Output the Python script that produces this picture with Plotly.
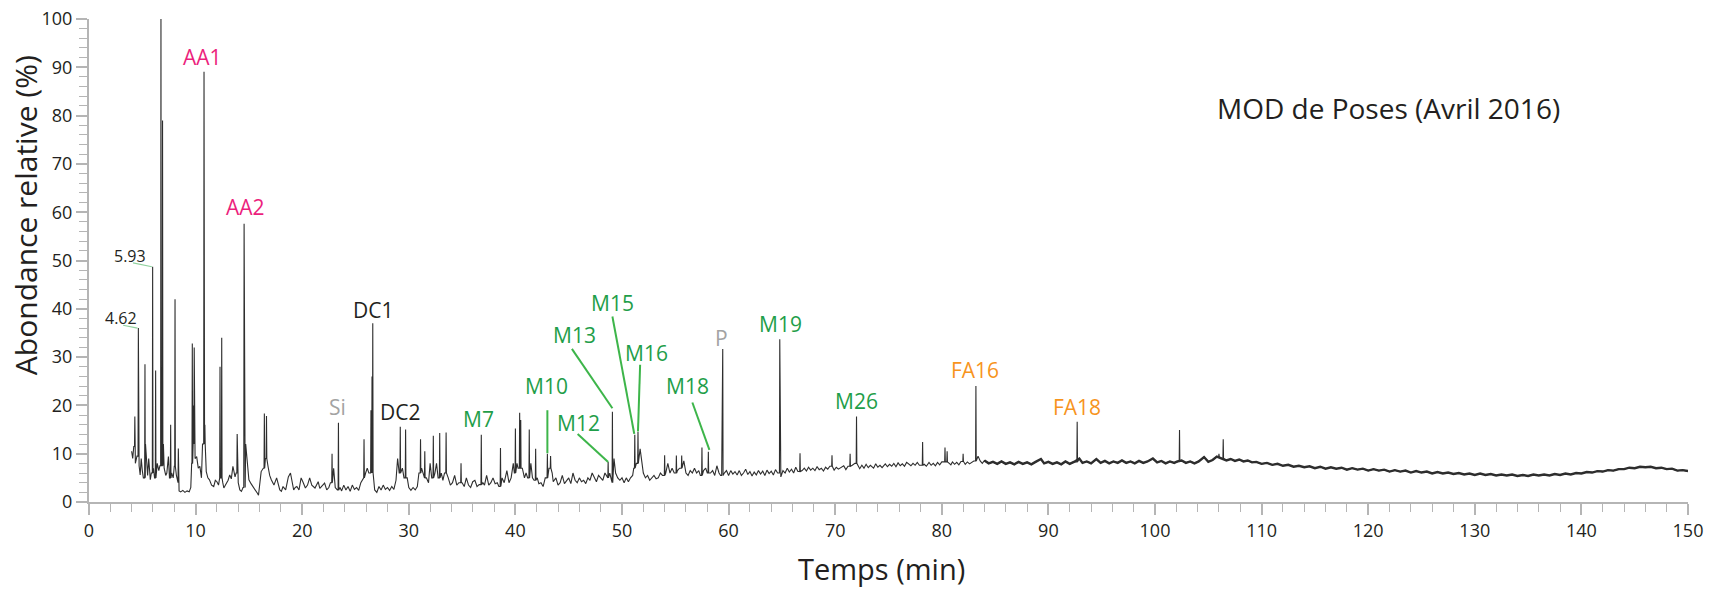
import numpy as np
import plotly.graph_objects as go

# ---------------- data ----------------
# baseline / noise readings (time in min, relative abundance %)
seg_early = [
    (4.00, 10.5), (4.10, 9.0), (4.20, 11.5), (4.35, 8.0), (4.50, 9.5), (4.70, 7.5),
    (4.80, 5.6), (4.90, 9.0), (5.00, 6.5), (5.10, 5.0), (5.30, 12.0), (5.40, 7.4),
    (5.50, 5.5), (5.60, 9.0), (5.75, 4.6), (5.85, 6.0), (6.05, 7.0), (6.15, 5.0),
    (6.40, 8.0), (6.55, 6.5), (6.65, 7.5), (6.98, 12.0), (7.05, 7.0), (7.20, 5.5),
    (7.30, 6.0), (7.45, 9.4), (7.55, 5.0), (7.75, 6.0), (7.90, 5.0), (8.00, 7.4),
    (8.20, 5.5), (8.30, 4.0), (8.45, 2.3), (8.60, 2.1), (8.80, 2.4), (9.00, 2.0),
    (9.20, 2.3), (9.40, 2.1), (9.55, 3.0), (9.63, 8.0), (9.75, 12.0), (9.95, 9.0),
    (10.10, 9.4), (10.25, 7.0), (10.40, 7.4), (10.55, 5.0), (10.65, 12.0), (10.92, 10.0),
    (11.00, 6.3), (11.15, 5.0), (11.30, 4.6), (11.50, 3.5), (11.70, 3.2), (11.85, 4.5),
    (12.00, 4.2), (12.15, 3.5), (12.25, 5.0), (12.55, 4.0), (12.65, 2.9), (12.80, 3.5),
    (12.90, 3.9), (13.05, 4.5), (13.20, 5.6), (13.35, 4.8), (13.50, 7.4), (13.70, 5.2),
    (13.80, 6.0), (14.00, 4.0), (14.15, 2.5), (14.30, 2.2), (14.45, 3.0), (14.70, 12.0),
    (14.80, 9.4), (14.90, 6.0), (15.00, 4.6), (15.20, 3.8), (15.40, 3.2), (15.60, 2.5),
    (15.80, 1.8), (15.90, 1.4), (16.05, 4.0), (16.15, 6.3), (16.35, 7.0), (16.55, 9.0),
    (16.80, 7.3), (16.95, 5.5), (17.10, 4.6), (17.35, 3.5), (17.60, 5.0), (17.75, 3.8),
    (17.90, 2.5), (18.05, 2.2), (18.20, 3.2), (18.45, 2.5), (18.70, 5.2), (18.90, 6.0),
    (19.05, 4.0), (19.20, 2.5), (19.35, 3.0), (19.50, 3.2), (19.70, 2.5), (19.90, 5.0),
    (20.10, 4.0), (20.30, 2.9), (20.50, 3.5), (20.70, 5.0), (20.90, 3.5), (21.20, 2.9),
    (21.50, 4.2), (21.65, 2.8), (21.80, 3.2), (22.10, 3.9),
]
seg_mid = [
    (22.30, 2.5), (22.50, 3.0), (22.65, 4.0), (22.95, 7.0), (23.10, 3.0), (23.30, 2.5),
    (23.55, 3.0), (23.70, 2.3), (23.90, 3.5), (24.10, 2.5), (24.30, 3.2), (24.50, 2.2),
    (24.70, 3.5), (24.90, 2.6), (25.10, 3.0), (25.30, 2.4), (25.50, 4.0), (25.70, 5.0),
    (25.95, 6.0), (26.10, 7.0), (26.25, 6.0), (26.80, 2.5), (27.00, 2.0), (27.20, 3.2),
    (27.40, 2.5), (27.60, 3.5), (27.80, 2.6), (28.00, 3.0), (28.20, 2.4), (28.40, 3.2),
    (28.60, 2.6), (28.80, 4.5), (28.95, 9.0), (29.10, 6.0), (29.40, 7.0), (29.55, 5.0),
    (29.85, 5.0), (30.00, 3.0), (30.20, 2.4), (30.40, 3.0), (30.60, 2.5), (30.80, 3.2),
    (30.95, 6.0), (31.20, 7.0), (31.40, 5.0), (31.65, 5.0), (31.85, 4.0), (32.00, 8.0),
    (32.15, 5.0), (32.45, 6.0), (32.60, 8.0), (32.75, 5.0), (33.05, 6.0), (33.20, 4.5),
    (33.35, 6.0), (33.70, 5.0), (33.90, 3.5), (34.10, 4.0), (34.30, 5.5), (34.50, 3.5),
    (34.70, 4.0), (35.00, 4.0), (35.20, 3.2), (35.40, 5.0), (35.60, 3.5), (35.80, 3.0),
    (36.00, 4.2), (36.20, 4.5), (36.40, 3.2), (36.60, 3.6), (36.95, 4.0), (37.10, 3.5),
    (37.30, 5.5), (37.50, 3.5), (37.70, 4.0), (37.90, 5.0), (38.10, 3.8), (38.30, 4.0),
    (38.45, 3.2), (38.75, 5.0), (38.95, 4.0), (39.20, 6.5), (39.40, 4.0), (39.60, 5.0),
    (39.80, 8.0), (39.90, 6.0), (40.15, 8.0), (40.25, 7.0), (40.65, 7.0), (40.85, 5.0),
    (41.00, 6.0), (41.15, 5.0), (41.45, 8.0), (41.60, 5.0), (41.75, 4.5), (42.05, 5.0),
    (42.20, 3.8), (42.40, 4.0), (42.60, 3.2), (42.80, 5.0), (43.15, 7.0), (43.45, 6.0),
    (43.55, 4.2), (43.80, 5.0), (44.00, 3.5), (44.20, 4.0), (44.40, 5.5), (44.60, 3.8),
    (44.80, 4.5), (45.00, 5.0), (45.20, 3.8), (45.40, 6.0), (45.60, 4.5), (45.80, 4.0),
    (46.00, 5.0), (46.20, 4.2), (46.40, 4.5), (46.60, 3.8), (46.80, 5.0), (47.00, 4.5),
    (47.20, 6.0), (47.40, 5.0), (47.60, 4.2), (47.80, 5.5), (48.00, 5.0), (48.20, 4.5),
    (48.40, 6.0), (48.60, 5.0), (48.85, 6.0), (49.00, 4.0), (49.25, 9.0), (49.40, 6.0),
    (49.60, 5.0), (49.80, 4.5), (50.00, 5.0), (50.20, 4.0), (50.40, 5.0), (50.60, 4.2),
    (50.80, 5.0), (51.00, 5.5), (51.10, 7.0), (51.35, 8.0), (51.70, 11.0), (51.85, 8.0),
    (52.00, 6.0), (52.20, 5.0), (52.40, 5.5), (52.60, 4.5), (52.80, 5.0), (53.00, 5.5),
    (53.20, 4.8), (53.40, 5.0), (53.60, 6.0), (53.80, 5.5), (54.10, 6.0), (54.30, 8.0),
    (54.50, 6.0), (54.70, 7.0), (54.90, 6.0), (55.20, 6.5), (55.40, 7.0), (55.80, 8.5),
    (56.00, 6.0), (56.20, 5.5), (56.40, 6.5), (56.60, 6.0), (56.80, 7.0), (57.00, 6.0),
    (57.20, 6.5), (57.35, 5.5), (57.65, 6.5), (57.85, 7.0), (58.00, 6.0), (58.30, 6.0),
    (58.50, 6.5), (58.70, 5.5), (58.90, 7.5), (59.10, 6.0), (59.25, 5.5), (59.60, 6.0),
    (59.80, 6.5),
]
seg_late = [
    (60.00, 5.5), (60.20, 6.5), (60.40, 5.8), (60.60, 6.3), (60.80, 5.6), (61.00, 6.5),
    (61.20, 5.5), (61.40, 6.0), (61.60, 6.8), (61.80, 5.7), (62.00, 6.3), (62.20, 5.4),
    (62.40, 6.2), (62.60, 5.6), (62.80, 6.5), (63.00, 5.8), (63.20, 6.4), (63.40, 5.5),
    (63.60, 6.6), (63.80, 5.9), (64.00, 6.4), (64.20, 5.6), (64.40, 6.7), (64.60, 6.0),
    (64.90, 5.2), (65.10, 6.5), (65.30, 6.0), (65.50, 7.0), (65.70, 6.2), (65.90, 6.8),
    (66.10, 6.0), (66.30, 7.2), (66.50, 6.3), (66.90, 6.5), (67.10, 7.0), (67.30, 6.4),
    (67.50, 7.2), (67.70, 6.6), (67.90, 7.0), (68.10, 6.5), (68.30, 7.3), (68.50, 6.7),
    (68.70, 7.0), (68.90, 6.4), (69.10, 7.2), (69.30, 6.8), (69.50, 7.4), (69.90, 6.6),
    (70.10, 7.2), (70.30, 6.8), (70.80, 7.5), (71.00, 6.7), (71.20, 7.4), (71.60, 7.6),
    (71.85, 8.0), (72.15, 7.5), (72.30, 6.9), (72.50, 7.6), (72.70, 7.0), (72.90, 7.8),
    (73.10, 7.1), (73.30, 7.6), (73.60, 7.0), (73.80, 7.9), (74.00, 7.2), (74.20, 7.6),
    (74.40, 7.1), (74.70, 7.9), (74.90, 7.3), (75.10, 7.8), (75.30, 7.4), (75.50, 8.0),
    (75.70, 7.3), (75.90, 8.1), (76.10, 7.5), (76.30, 7.9), (76.50, 7.4), (76.70, 8.2),
    (77.10, 7.5), (77.30, 8.0), (77.50, 7.6), (77.70, 8.2), (77.90, 7.6), (78.35, 7.8),
    (78.55, 7.4), (78.80, 8.2), (79.00, 7.6), (79.20, 8.0), (79.40, 7.5), (79.60, 8.2),
    (79.80, 7.7), (80.00, 8.3), (80.70, 8.0), (80.85, 7.7), (81.00, 8.3), (81.20, 7.8),
    (81.40, 8.2), (81.60, 7.7), (81.80, 8.4), (82.20, 7.8), (82.40, 8.3), (82.60, 7.9),
    (82.80, 8.2), (83.00, 8.5), (83.40, 9.5), (83.60, 8.5), (83.80, 8.0),
]
seg_tail = [
    (84.0, 8.6), (84.4, 8.0), (84.8, 8.3), (85.2, 7.9), (85.6, 8.4), (86.0, 7.9),
    (86.4, 8.2), (86.8, 7.8), (87.2, 8.3), (87.6, 7.9), (88.0, 8.2), (88.4, 7.8),
    (88.8, 8.3), (89.3, 8.9), (89.6, 8.0), (90.0, 8.3), (90.4, 7.9), (90.8, 8.2),
    (91.2, 7.8), (91.6, 8.4), (92.0, 7.9), (92.4, 8.3), (92.9, 9.0), (93.2, 8.1),
    (93.6, 8.4), (94.0, 8.0), (94.5, 8.9), (94.9, 8.1), (95.3, 8.5), (95.7, 8.0),
    (96.1, 8.4), (96.5, 8.1), (96.9, 8.6), (97.3, 8.1), (97.7, 8.4), (98.1, 8.0),
    (98.5, 8.5), (98.9, 8.1), (99.3, 8.4), (99.8, 9.0), (100.2, 8.2), (100.6, 8.5),
    (101.0, 8.0), (101.4, 8.4), (101.8, 8.1), (102.1, 8.4), (102.5, 8.6), (102.9, 8.1),
    (103.3, 8.4), (103.7, 8.0), (104.1, 8.4), (104.6, 9.3), (105.0, 8.3), (105.4, 8.7),
    (105.8, 9.4), (106.2, 9.0), (106.7, 8.6), (107.1, 8.9), (107.5, 8.5), (107.9, 8.8),
    (108.3, 8.4), (108.7, 8.6), (109.1, 8.2), (109.5, 8.3), (110.0, 7.9), (110.5, 8.1),
    (111.0, 7.7), (111.5, 7.9), (112.0, 7.5), (112.5, 7.7), (113.0, 7.3), (113.5, 7.5),
    (114.0, 7.2), (114.5, 7.4), (115.0, 7.0), (115.5, 7.3), (116.0, 6.9), (116.5, 7.2),
    (117.0, 6.9), (117.5, 7.1), (118.0, 6.7), (118.5, 7.0), (119.0, 6.7), (119.5, 6.9),
    (120.0, 6.5), (120.5, 6.8), (121.0, 6.5), (121.5, 6.7), (122.0, 6.3), (122.5, 6.6),
    (123.0, 6.3), (123.5, 6.5), (124.0, 6.1), (124.5, 6.4), (125.0, 6.1), (125.5, 6.3),
    (126.0, 5.9), (126.5, 6.2), (127.0, 5.9), (127.5, 6.1), (128.0, 5.8), (128.5, 6.0),
    (129.0, 5.7), (129.5, 5.9), (130.0, 5.6), (130.5, 5.9), (131.0, 5.6), (131.5, 5.8),
    (132.0, 5.5), (132.5, 5.7), (133.0, 5.5), (133.5, 5.7), (134.0, 5.4), (134.5, 5.6),
    (135.0, 5.4), (135.5, 5.7), (136.0, 5.5), (136.5, 5.7), (137.0, 5.5), (137.5, 5.8),
    (138.0, 5.6), (138.5, 5.9), (139.0, 5.7), (139.5, 6.0), (140.0, 5.9), (140.5, 6.2),
    (141.0, 6.1), (141.5, 6.4), (142.0, 6.3), (142.5, 6.6), (143.0, 6.5), (143.5, 6.8),
    (144.0, 6.8), (144.5, 7.1), (145.0, 7.0), (145.5, 7.3), (146.0, 7.2), (146.5, 7.3),
    (147.0, 7.0), (147.5, 7.1), (148.0, 6.8), (148.5, 6.9), (149.0, 6.5), (149.5, 6.6),
    (150.0, 6.4),
]

# sharp peaks: retention time (min) and apex (%)
peak_t = [4.30, 4.63, 5.25, 5.97, 6.25, 6.75, 6.90, 7.66, 8.07, 8.38,
          9.69, 9.80, 9.87, 10.79, 10.87, 12.29, 12.45, 13.90, 14.55, 14.62,
          16.45, 16.65, 22.80, 23.40, 25.80, 26.45, 26.55, 26.62, 29.20, 29.70,
          31.10, 31.50, 32.30, 32.90, 33.50, 34.90, 36.80, 38.60, 40.00, 40.40,
          40.50, 41.30, 41.90, 43.00, 43.30, 48.70, 49.10, 51.20, 51.50, 54.00,
          55.10, 55.60, 57.50, 58.10, 59.38, 59.45, 64.80, 66.70, 69.70, 71.40,
          72.00, 78.20, 80.30, 80.50, 82.00, 83.20, 92.70, 102.30, 106.00, 106.40]
peak_top = [17.7, 36.0, 28.5, 48.7, 27.2, 100.0, 79.0, 16.0, 42.0, 11.1,
            32.8, 20.0, 32.0, 89.1, 16.0, 28.0, 34.0, 14.1, 57.6, 33.0,
            18.3, 17.8, 10.0, 16.4, 13.0, 19.0, 26.0, 37.0, 15.6, 15.0,
            13.0, 10.5, 13.7, 14.3, 14.4, 8.0, 13.9, 11.2, 15.2, 18.5,
            17.0, 15.0, 11.0, 10.0, 9.5, 8.3, 18.7, 13.9, 14.5, 9.7,
            9.6, 9.6, 11.3, 10.4, 26.0, 31.7, 33.7, 10.1, 9.7, 10.0,
            17.7, 12.4, 11.3, 10.5, 10.0, 24.0, 16.6, 14.9, 10.0, 13.0]

# peak labels: text, time, abundance, colour group
label_text = ["AA1", "AA2", "5.93", "4.62", "DC1", "Si", "DC2", "M7", "M10", "M12",
              "M13", "M15", "M16", "M18", "P", "M19", "M26", "FA16", "FA18"]
label_t = [10.67, 14.70, 3.85, 3.00, 26.60, 23.30, 29.20, 36.50, 42.90, 45.90,
           45.50, 49.10, 52.30, 56.10, 59.35, 64.90, 72.00, 83.10, 92.70]
label_y = [92.2, 61.1, 50.9, 38.0, 39.8, 19.7, 18.7, 17.1, 24.0, 16.3,
           34.6, 41.3, 30.9, 24.0, 33.9, 36.8, 20.9, 27.3, 19.7]
label_group = ["AA", "AA", "rt", "rt", "DC", "grey", "DC", "M", "M", "M",
               "M", "M", "M", "M", "grey", "M", "M", "FA", "FA"]

# leader lines from labels to peaks (time/abundance of both ends)
lead_t0 = [4.13, 3.20, 43.0, 45.84, 45.30, 49.10, 51.70, 56.60]
lead_y0 = [49.5, 36.6, 19.0, 14.1, 31.7, 38.4, 28.4, 20.6]
lead_t1 = [5.90, 4.55, 43.0, 48.70, 49.10, 51.15, 51.50, 58.20]
lead_y1 = [48.7, 36.0, 10.1, 8.3, 19.4, 14.1, 14.6, 10.8]
lead_kind = ["rt", "rt", "M", "M", "M", "M", "M", "M"]

x_ticks = [0, 10, 20, 30, 40, 50, 60, 70, 80, 90, 100, 110, 120, 130, 140, 150]
y_ticks = [0, 10, 20, 30, 40, 50, 60, 70, 80, 90, 100]

title_text = "MOD de Poses (Avril 2016)"
x_title = "Temps (min)"
y_title = "Abondance relative (%)"

# ---------------- build chromatogram ----------------
base = seg_early + seg_mid + seg_late + seg_tail
bt = np.array([p[0] for p in base])
by = np.array([p[1] for p in base])
pts = list(base)
half_w = 0.03
for t, h in zip(peak_t, peak_top):
    i = max(int(np.searchsorted(bt, t)) - 1, 0)
    foot = by[i]
    pts += [(t - half_w, foot), (t, h), (t + half_w, foot)]
pts.sort(key=lambda p: p[0])
ct = np.array([p[0] for p in pts])
cy = np.array([p[1] for p in pts])

tail_t = [p[0] for p in seg_tail]
tail_y = [p[1] for p in seg_tail]

FONT = "Open Sans"
DARK = "#231f20"
colors = {"AA": "#ec1f7d", "M": "#1f9e49", "FA": "#f7941d", "grey": "#a3a3a3",
          "DC": DARK, "rt": DARK}
lead_colors = {"M": "#3db54a", "rt": "#8fd19e"}
AXIS = "#b5b5b5"
LINE = "#2e2e2e"

fig = go.Figure()
# thick, dense-looking late baseline
fig.add_trace(go.Scatter(x=tail_t, y=tail_y, mode="lines",
                         line=dict(color=LINE, width=2.4), hoverinfo="skip"))
# full chromatogram (thin spikes)
fig.add_trace(go.Scatter(x=ct, y=cy, mode="lines",
                         line=dict(color=LINE, width=1.1), hoverinfo="skip"))

for x0, y0, x1, y1, k in zip(lead_t0, lead_y0, lead_t1, lead_y1, lead_kind):
    fig.add_shape(type="line", xref="x", yref="y", x0=x0, y0=y0, x1=x1, y1=y1,
                  line=dict(color=lead_colors[k], width=2 if k == "M" else 1.2))

for txt, t, y, g in zip(label_text, label_t, label_y, label_group):
    fig.add_annotation(x=t, y=y, xref="x", yref="y", text=txt, showarrow=False,
                       xanchor="center", yanchor="middle",
                       font=dict(family=FONT, size=16 if g == "rt" else 21,
                                 color=colors[g]))

fig.add_annotation(x=121.9, y=81.6, xref="x", yref="y", text=title_text,
                   showarrow=False, xanchor="center", yanchor="middle",
                   font=dict(family=FONT, size=28, color=DARK))
fig.add_annotation(x=74.3, y=-0.137, xref="x", yref="paper", text=x_title,
                   showarrow=False, xanchor="center", yanchor="middle",
                   font=dict(family=FONT, size=29, color=DARK))
fig.add_annotation(x=-0.040, y=59.4, xref="paper", yref="y", text=y_title,
                   showarrow=False, xanchor="center", yanchor="middle",
                   textangle=-90, font=dict(family=FONT, size=30, color=DARK))

fig.update_xaxes(range=[0, 150], tickvals=x_ticks, ticktext=[str(v) for v in x_ticks],
                 showgrid=False, zeroline=False, showline=True, linecolor=AXIS,
                 linewidth=2, ticks="outside", ticklen=11, tickwidth=1.5,
                 tickcolor=AXIS, tickfont=dict(family=FONT, size=18, color=DARK),
                 automargin=False,
                 minor=dict(dtick=2, ticklen=8, tickwidth=1.2, tickcolor=AXIS,
                            ticks="outside", showgrid=False))
fig.update_yaxes(range=[0, 100], tickvals=y_ticks, ticktext=[str(v) for v in y_ticks],
                 showgrid=False, zeroline=False, showline=True, linecolor=AXIS,
                 linewidth=2, ticks="outside", ticklen=11, tickwidth=1.5,
                 tickcolor=AXIS, tickfont=dict(family=FONT, size=18, color=DARK),
                 automargin=False,
                 minor=dict(dtick=2, ticklen=8, tickwidth=1.2, tickcolor=AXIS,
                            ticks="outside", showgrid=False))

fig.update_layout(width=1710, height=590, margin=dict(l=89, r=22, t=19, b=88),
                  paper_bgcolor="white", plot_bgcolor="white", showlegend=False)

fig.write_html("out.html", config={"displayModeBar": False})

# remove the default page margin so the figure sits at the window's top-left
with open("out.html", "r", encoding="utf-8") as f:
    html = f.read()
html = html.replace("<head>", "<head><style>html,body{margin:0;padding:0;overflow:hidden;}</style>", 1)
with open("out.html", "w", encoding="utf-8") as f:
    f.write(html)
